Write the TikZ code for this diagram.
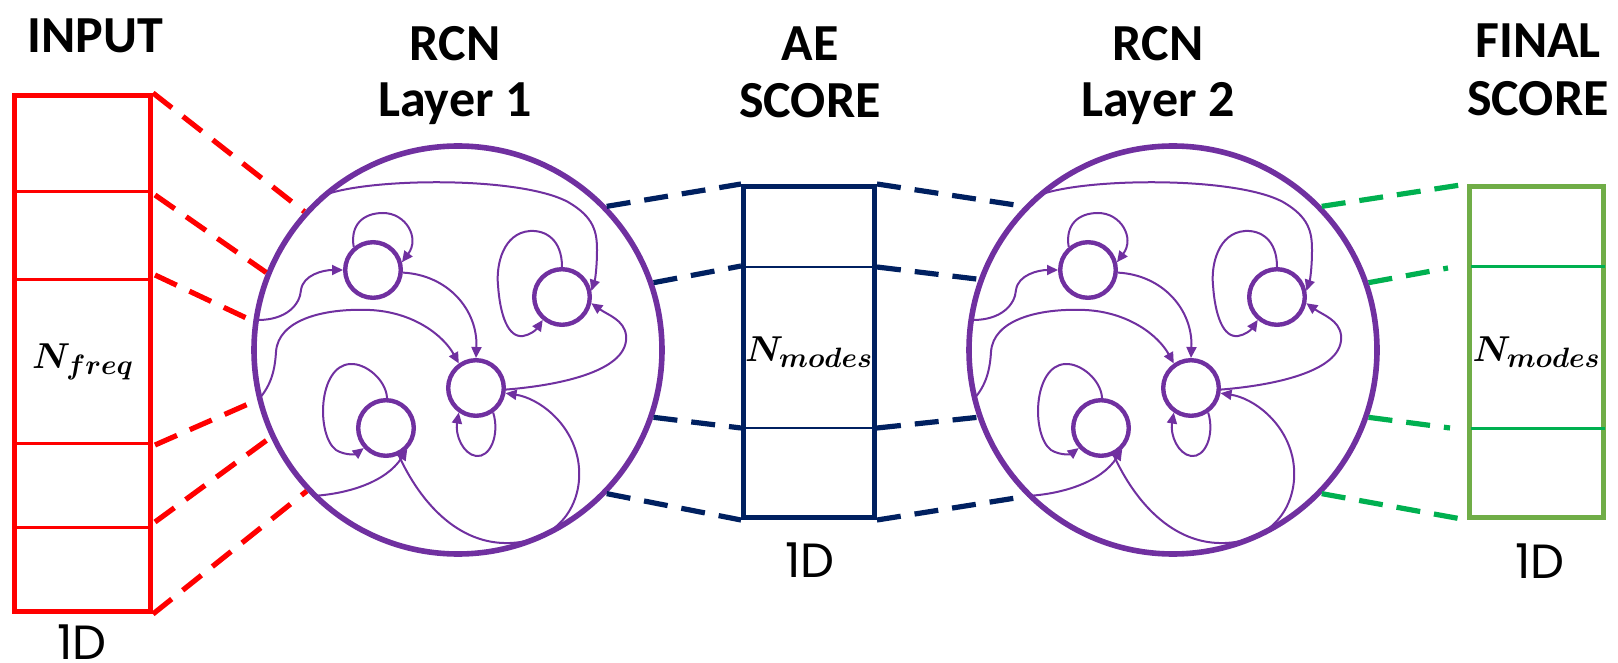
\RequirePackage{fix-cm}
\documentclass[tikz,border=0pt]{standalone}
\usepackage{amsmath}
\usepackage[no-math]{fontspec}
\setmainfont{Poppins}
\newfontfamily\ttlfont{Carlito}
\usetikzlibrary{arrows.meta}
\DeclareMathSizes{18}{18}{14}{10}
\definecolor{rpurple}{HTML}{7030A0}
\definecolor{rnavy}{HTML}{002060}
\definecolor{rgreen}{HTML}{00B050}
\definecolor{rlgreen}{HTML}{70AD47}
\tikzset{
  ttl/.style={font=\ttlfont\bfseries\fontsize{26}{31}\selectfont, anchor=base, inner sep=0pt},
  dlab/.style={font=\fontsize{24}{28}\selectfont, anchor=base, inner sep=0pt},
  mlab/.style={font=\fontsize{18}{22}\selectfont, inner sep=0pt},
  box/.style={rectangle, line width=2.5pt, inner sep=0pt, fill=none},
  bigc/.style={circle, draw=rpurple, line width=2.8pt, minimum size=204pt, inner sep=0pt},
  smc/.style={circle, draw=rpurple, line width=2.2pt, minimum size=27.8pt, inner sep=0pt},
  edge/.style={draw=rpurple, line width=1pt, -{Triangle[length=5.5pt,width=5pt]}},
  dsh/.style={line width=2.6pt, dash pattern=on 12pt off 7pt}
}
\newcommand\rcnnet[2]{%
\begin{scope}[shift={(#2,350)}]
  \node[bigc] (#1) at (0,0) {};
  \node[smc] (#1A) at (-85,-80) {};
  \node[smc] (#1B) at (104,-53) {};
  \node[smc] (#1C) at (18,38) {};
  \node[smc] (#1D) at (-72,78) {};
  \coordinate (#1i1) at (-138,-153);
  \coordinate (#1i2) at (-200,-30);
  \coordinate (#1i3) at (-200,50);
  \coordinate (#1i4) at (-146,146);
  % long top arc into B
  \draw[edge] (#1i1) .. controls (-100,-172) and (60,-175) .. (110,-148)
     .. controls (136,-133) and (139,-118) .. (139,-100)
     .. controls (139,-82) and (137,-70) .. (#1B.12);
  % self loop A
  \draw[edge] (#1A.130) .. controls (-108,-125) and (-95,-137) .. (-75,-137)
     .. controls (-52,-137) and (-38,-112) .. (#1A.15);
  % input into A
  \draw[edge] (#1i2) .. controls (-172,-30) and (-158,-45) .. (-157,-60)
     .. controls (-155,-75) and (-135,-80) .. (#1A.west);
  % A -> C
  \draw[edge] (#1A.-5) .. controls (-10,-75) and (20,-40) .. (#1C.north);
  % input into C
  \draw[edge] (#1i3) .. controls (-186,35) and (-183,18) .. (-182,2)
     .. controls (-180,-30) and (-135,-42) .. (-88,-40)
     .. controls (-45,-38) and (-15,-15) .. (#1C.125);
  % self loop B
  \draw[edge] (#1B.90) .. controls (104,-110) and (88,-120) .. (72,-119)
     .. controls (45,-117) and (38,-85) .. (40,-65)
     .. controls (42,-35) and (50,-12) .. (65,-14)
     .. controls (72,-15) and (78,-20) .. (#1B.230);
  % C -> B
  \draw[edge] (#1C.-3) .. controls (105,35) and (172,20) .. (168,-15)
     .. controls (166,-30) and (150,-35) .. (#1B.-12);
  % self loop C
  \draw[edge] (#1C.-55) .. controls (42,85) and (32,108) .. (18,106)
     .. controls (5,104) and (-3,85) .. (#1C.235);
  % self loop D
  \draw[edge] (#1D.88) .. controls (-72,30) and (-92,13) .. (-108,14)
     .. controls (-140,16) and (-142,85) .. (-122,100)
     .. controls (-112,106) and (-102,104) .. (#1D.222);
  % input into D
  \draw[edge] (#1i4) .. controls (-110,144) and (-72,132) .. (#1D.-45);
  % D -> C big arc
  \draw[edge] (#1D.-65) .. controls (-38,152) and (0,195) .. (52,193)
     .. controls (104,191) and (127,150) .. (120,110)
     .. controls (113,72) and (80,48) .. (#1C.-10);
\end{scope}}
\begin{document}
\begin{tikzpicture}[x=0.5pt,y=-0.5pt]
\useasboundingbox (0,0) rectangle (1618,663);
% input box
\node[box, draw=red, minimum width=68pt, minimum height=258pt] (IN) at (82.5,353.5) {};
\draw[red, line width=1.5pt] (14.5,192) -- (150.5,192);
\draw[red, line width=1.5pt] (14.5,280) -- (150.5,280);
\draw[red, line width=1.5pt] (14.5,443) -- (150.5,443);
\draw[red, line width=1.5pt] (14.5,527) -- (150.5,527);
\node[mlab] (nfreq) at (83,362) {$\boldsymbol{N_{freq}}$};
% AE box
\node[box, draw=rnavy, minimum width=65.5pt, minimum height=165.5pt] (AE) at (809,352) {};
\draw[rnavy, line width=1.4pt] (743.5,267) -- (874.5,267);
\draw[rnavy, line width=1.4pt] (743.5,428) -- (874.5,428);
\node[mlab] (nm1) at (809,352) {$\boldsymbol{N_{modes}}$};
% final box
\node[box, draw=rlgreen, minimum width=67pt, minimum height=165.5pt] (FS) at (1536.5,352) {};
\draw[rgreen, line width=1.5pt] (1470.5,267) -- (1605,267);
\draw[rgreen, line width=1.5pt] (1470.5,428) -- (1605,428);
\node[mlab] (nm2) at (1536.5,352) {$\boldsymbol{N_{modes}}$};
% networks
\rcnnet{ra}{458}
\rcnnet{rb}{1173}
% titles
\node[ttl] (t1) at (95,53) {INPUT};
\node[ttl] (t2a) at (455,61) {RCN};
\node[ttl] (t2b) at (455,117) {Layer 1};
\node[ttl] (t3a) at (810,61) {AE};
\node[ttl] (t3b) at (810,118) {SCORE};
\node[ttl] (t4a) at (1158,61) {RCN};
\node[ttl] (t4b) at (1158,117) {Layer 2};
\node[ttl] (t5a) at (1538,58) {FINAL};
\node[ttl] (t5b) at (1538,116) {SCORE};
\node[dlab] (d1) at (82,659) {1D};
\node[dlab] (d2) at (810,577) {1D};
\node[dlab] (d3) at (1540,578) {1D};
% red projection lines
\coordinate (ip2) at (155,195);
\coordinate (ip3) at (155,275);
\coordinate (ip4) at (155,445);
\coordinate (ip5) at (155,522);
\draw[dsh, red] (IN.north east) -- (ra.138);
\draw[dsh, red] (ip2) -- (ra.158);
\draw[dsh, red] (ip3) -- (ra.172);
\draw[dsh, red] (ip4) -- (ra.194);
\draw[dsh, red] (ip5) -- (ra.205);
\draw[dsh, red] (IN.south east) -- (ra.223);
% navy lines
\coordinate (ae1) at (741,266);
\coordinate (ae2) at (741,428);
\coordinate (ae3) at (877,267);
\coordinate (ae4) at (877,428);
\draw[dsh, rnavy] (ra.44) -- (AE.north west);
\draw[dsh, rnavy] (ra.19) -- (ae1);
\draw[dsh, rnavy] (ra.-19) -- (ae2);
\draw[dsh, rnavy] (ra.-44) -- (AE.south west);
\draw[dsh, rnavy] (AE.north east) -- (rb.136);
\draw[dsh, rnavy] (ae3) -- (rb.160);
\draw[dsh, rnavy] (ae4) -- (rb.199);
\draw[dsh, rnavy] (AE.south east) -- (rb.225);
% green lines
\coordinate (fs1) at (1448,268);
\coordinate (fs2) at (1450,428);
\draw[dsh, rgreen] (rb.44) -- (FS.north west);
\draw[dsh, rgreen] (rb.19) -- (fs1);
\draw[dsh, rgreen] (rb.-19) -- (fs2);
\draw[dsh, rgreen] (rb.-44) -- (FS.south west);
\end{tikzpicture}
\end{document}
